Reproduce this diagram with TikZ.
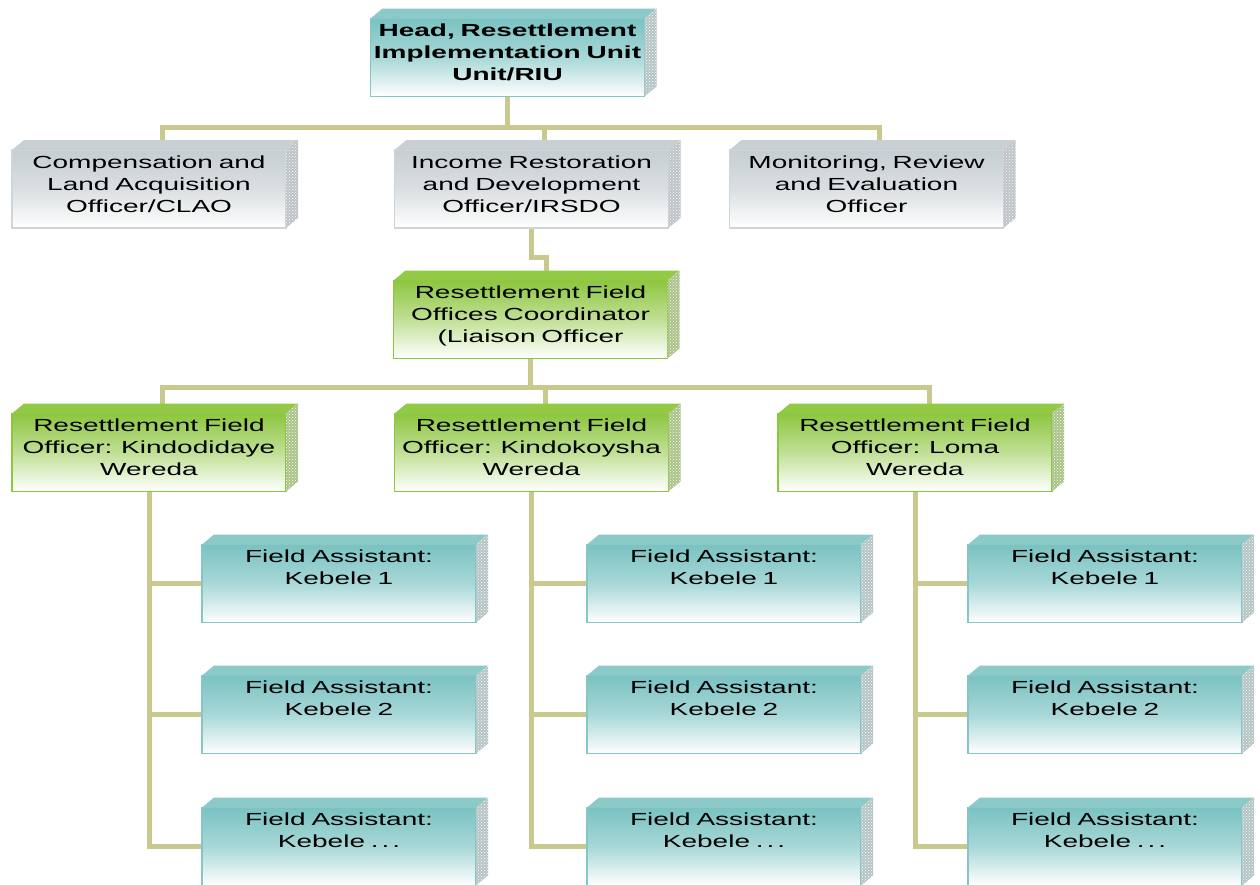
\documentclass[tikz,border=0pt]{standalone}
\usepackage{fontspec}
\setmainfont[FakeStretch=1.6, WordSpace=0.75]{Liberation Sans}
\usepackage{tikz}
\usetikzlibrary{patterns}
\pgfdeclarelayer{background}
\pgfsetlayers{background,main}

\definecolor{tealtop}{RGB}{122,194,194}
\definecolor{tealline}{RGB}{135,198,198}
\definecolor{teallid}{RGB}{140,202,202}
\definecolor{tealside}{RGB}{180,196,196}
\definecolor{greytop}{RGB}{198,206,210}
\definecolor{greyline}{RGB}{208,213,217}
\definecolor{greylid}{RGB}{200,208,212}
\definecolor{greyside}{RGB}{190,194,198}
\definecolor{greentop}{RGB}{141,198,63}
\definecolor{greenlid}{RGB}{146,202,70}
\definecolor{greenside}{RGB}{170,194,135}
\definecolor{linkcol}{RGB}{201,201,143}

\tikzstyle{box} = [rectangle, line width=1.2pt, outer sep=0pt, inner sep=0pt, text width=274pt, minimum height=78pt, align=center, text height=0pt, text depth=42pt, font=\fontsize{17.5}{22}\selectfont]
\tikzstyle{unit} = [box, draw=tealline, top color=tealtop, bottom color=white, middle color=tealtop!65]
\tikzstyle{staff} = [box, draw=greyline, top color=greytop, bottom color=white, middle color=greytop!65]
\tikzstyle{lead} = [box, draw=greentop, top color=greentop, bottom color=white, middle color=greentop!55]
\tikzstyle{link} = [draw=linkcol, line width=5pt]

% lid and right side of a box
\newcommand{\boxlid}[3]{%
	\fill[#2] (#1.north west) -- ++(12,-10) -- ([shift={(12,-10)}]#1.north east) -- (#1.north east) -- cycle;
	\fill[#3] (#1.north east) -- ++(12,-10) -- ([shift={(12,-10)}]#1.south east) -- (#1.south east) -- cycle;
	\fill[pattern=crosshatch dots, pattern color=white] (#1.north east) -- ++(12,-10) -- ([shift={(12,-10)}]#1.south east) -- (#1.south east) -- cycle;
}

\begin{document}
\begin{tikzpicture}[x=1pt, y=-1pt]
	\useasboundingbox (0,0) rectangle (1260,884);
	
	\node[unit] (head) at (507.5,57.5) {\bfseries Head, Resettlement\\\bfseries Implementation Unit\\\bfseries Unit/RIU};
	
	\node[staff] (clao) at (149,189) {Compensation and\\Land Acquisition\\Officer/CLAO};
	\node[staff] (irsdo) at (531.5,189) {Income Restoration\\and Development\\Officer/IRSDO};
	\node[staff] (mreo) at (866.5,189) {Monitoring, Review\\and Evaluation\\Officer};
	
	\node[lead] (rfoc) at (530.5,319.5) {Resettlement Field\\Offices Coordinator\\(Liaison Officer};
	
	\node[lead] (rfo1) at (149,452.5) {Resettlement Field\\Officer: Kindodidaye\\Wereda};
	\node[lead] (rfo2) at (531.5,452.5) {Resettlement Field\\Officer: Kindokoysha\\Wereda};
	\node[lead] (rfo3) at (915,452.5) {Resettlement Field\\Officer: Loma\\Wereda};
	
	\node[unit] (fa11) at (339,583.5) {Field Assistant:\\Kebele 1};
	\node[unit] (fa12) at (339,714.5) {Field Assistant:\\Kebele 2};
	\node[unit] (fa13) at (339,846.5) {Field Assistant:\\Kebele .\,.\,.};
	\node[unit] (fa21) at (724,583.5) {Field Assistant:\\Kebele 1};
	\node[unit] (fa22) at (724,714.5) {Field Assistant:\\Kebele 2};
	\node[unit] (fa23) at (724,846.5) {Field Assistant:\\Kebele .\,.\,.};
	\node[unit] (fa31) at (1105,583.5) {Field Assistant:\\Kebele 1};
	\node[unit] (fa32) at (1105,714.5) {Field Assistant:\\Kebele 2};
	\node[unit] (fa33) at (1105,846.5) {Field Assistant:\\Kebele .\,.\,.};
	
	\boxlid{head}{teallid}{tealside}
	\boxlid{clao}{greylid}{greyside}
	\boxlid{irsdo}{greylid}{greyside}
	\boxlid{mreo}{greylid}{greyside}
	\boxlid{rfoc}{greenlid}{greenside}
	\boxlid{rfo1}{greenlid}{greenside}
	\boxlid{rfo2}{greenlid}{greenside}
	\boxlid{rfo3}{greenlid}{greenside}
	\boxlid{fa11}{teallid}{tealside}
	\boxlid{fa12}{teallid}{tealside}
	\boxlid{fa13}{teallid}{tealside}
	\boxlid{fa21}{teallid}{tealside}
	\boxlid{fa22}{teallid}{tealside}
	\boxlid{fa23}{teallid}{tealside}
	\boxlid{fa31}{teallid}{tealside}
	\boxlid{fa32}{teallid}{tealside}
	\boxlid{fa33}{teallid}{tealside}
	
	\coordinate (bus1) at (0,127);
	\coordinate (bus2) at (0,387);
	
	\begin{pgfonlayer}{background}
		\draw[link] (head.south) -- (head.south |- bus1);
		\draw[link] ([xshift=13pt]clao.north) |- ([xshift=13pt]mreo.north |- bus1) -- ([xshift=13pt]mreo.north);
		\draw[link] ([xshift=13pt]irsdo.north) -- ([xshift=13pt]irsdo.north |- bus1);
		\draw[link] (irsdo.south) -- ++(0,29) -| ([xshift=16pt]rfoc.north);
		
		\draw[link] (rfoc.south) -- (rfoc.south |- bus2);
		\draw[link] ([xshift=13pt]rfo1.north) |- ([xshift=14pt]rfo3.north |- bus2) -- ([xshift=14pt]rfo3.north);
		\draw[link] ([xshift=14pt]rfo2.north) -- ([xshift=14pt]rfo2.north |- bus2);
		
		\draw[link] (rfo1.south) |- (fa13.west);
		\draw[link] (rfo1.south |- fa11.west) -- (fa11.west);
		\draw[link] (rfo1.south |- fa12.west) -- (fa12.west);
		\draw[link] (rfo2.south) |- (fa23.west);
		\draw[link] (rfo2.south |- fa21.west) -- (fa21.west);
		\draw[link] (rfo2.south |- fa22.west) -- (fa22.west);
		\draw[link] (rfo3.south) |- (fa33.west);
		\draw[link] (rfo3.south |- fa31.west) -- (fa31.west);
		\draw[link] (rfo3.south |- fa32.west) -- (fa32.west);
	\end{pgfonlayer}
\end{tikzpicture}
\end{document}
